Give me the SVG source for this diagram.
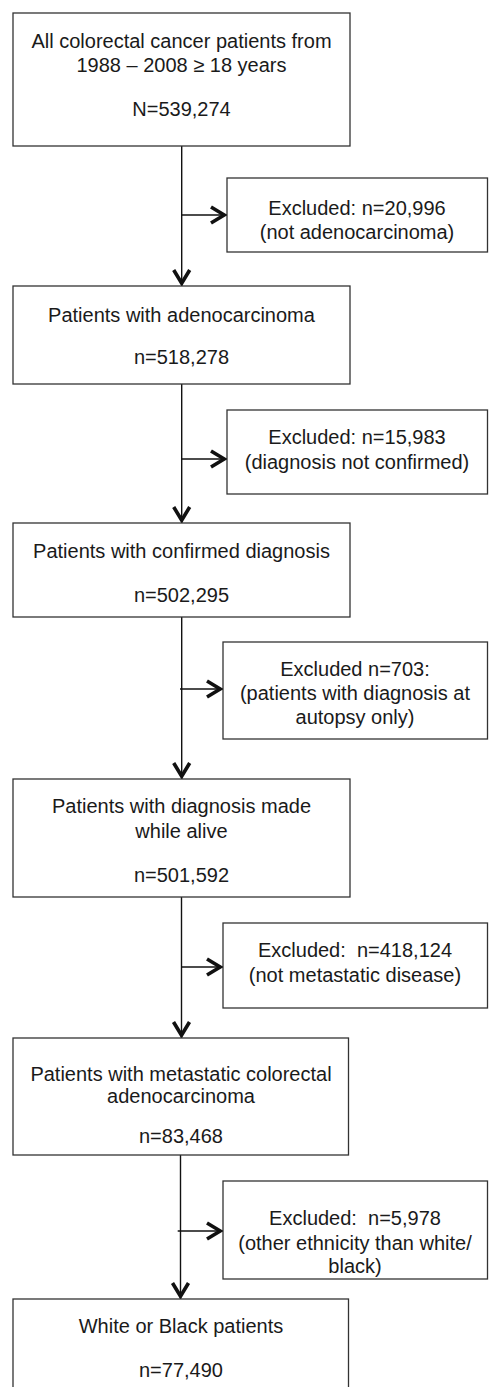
<svg xmlns="http://www.w3.org/2000/svg" width="489" height="1387" viewBox="0 0 489 1387">
<style>
.box{fill:#fff;stroke:#333;stroke-width:1.3}
.t{font-family:"Liberation Sans",Arial,sans-serif;font-size:20px;fill:#1a1a1a;text-anchor:middle}
.ln{stroke:#111;stroke-width:1.4;fill:none;marker-end:url(#ah)}
</style>
<defs>
<marker id="ah" markerUnits="userSpaceOnUse" markerWidth="20" markerHeight="20" viewBox="-20 -10 20 20" refX="0" refY="0" orient="auto" overflow="visible">
<path d="M-16,-8 L-2.8,0 L-16,8" fill="none" stroke="#111" stroke-width="3.6"/>
</marker>
</defs>
<rect width="489" height="1387" fill="#fff"/>
<g id="connectors">
<path class="ln" d="M181.7,146 V286"/>
<path class="ln" d="M181.7,215 H227"/>
<path class="ln" d="M181.7,384 V523"/>
<path class="ln" d="M181.7,459 H227"/>
<path class="ln" d="M181.7,617 V779"/>
<path class="ln" d="M180,689 H223"/>
<path class="ln" d="M181.5,897 V1038"/>
<path class="ln" d="M181.5,967 H223"/>
<path class="ln" d="M180.5,1155 V1299"/>
<path class="ln" d="M177.7,1231 H223"/>
</g>
<g id="n1">
<rect class="box" x="13" y="13" width="337" height="133"/>
<text class="t" x="181.5" y="48">All colorectal cancer patients from</text>
<text class="t" x="181.5" y="72">1988 – 2008 ≥ 18 years</text>
<text class="t" x="181.5" y="116">N=539,274</text>
</g>
<g id="e1">
<rect class="box" x="227" y="178" width="260.5" height="74"/>
<text class="t" x="357" y="215">Excluded: n=20,996</text>
<text class="t" x="357" y="239">(not adenocarcinoma)</text>
</g>
<g id="n2">
<rect class="box" x="13" y="286" width="337" height="98"/>
<text class="t" x="181.5" y="322">Patients with adenocarcinoma</text>
<text class="t" x="181.5" y="364">n=518,278</text>
</g>
<g id="e2">
<rect class="box" x="227" y="410" width="260.5" height="84"/>
<text class="t" x="357" y="444">Excluded: n=15,983</text>
<text class="t" x="357" y="469">(diagnosis not confirmed)</text>
</g>
<g id="n3">
<rect class="box" x="13" y="523" width="337" height="94"/>
<text class="t" x="181.5" y="558">Patients with confirmed diagnosis</text>
<text class="t" x="181.5" y="602">n=502,295</text>
</g>
<g id="e3">
<rect class="box" x="223" y="642" width="264.5" height="97"/>
<text class="t" x="355" y="676">Excluded n=703:</text>
<text class="t" x="355" y="700">(patients with diagnosis at</text>
<text class="t" x="355" y="724">autopsy only)</text>
</g>
<g id="n4">
<rect class="box" x="13" y="779" width="337" height="118"/>
<text class="t" x="181.5" y="813">Patients with diagnosis made</text>
<text class="t" x="181.5" y="838">while alive</text>
<text class="t" x="181.5" y="882">n=501,592</text>
</g>
<g id="e4">
<rect class="box" x="223" y="923" width="264.5" height="85"/>
<text class="t" x="355" y="957" xml:space="preserve">Excluded:  n=418,124</text>
<text class="t" x="355" y="982">(not metastatic disease)</text>
</g>
<g id="n5">
<rect class="box" x="13" y="1038" width="335.5" height="117"/>
<text class="t" x="181" y="1081">Patients with metastatic colorectal</text>
<text class="t" x="181" y="1103">adenocarcinoma</text>
<text class="t" x="181" y="1143">n=83,468</text>
</g>
<g id="e5">
<rect class="box" x="223" y="1181" width="264.5" height="98"/>
<text class="t" x="355" y="1225" xml:space="preserve">Excluded:  n=5,978</text>
<text class="t" x="355" y="1250">(other ethnicity than white/</text>
<text class="t" x="355" y="1273">black)</text>
</g>
<g id="n6">
<rect class="box" x="13" y="1299" width="335.5" height="120"/>
<text class="t" x="181" y="1333">White or Black patients</text>
<text class="t" x="181" y="1377">n=77,490</text>
</g>
</svg>
